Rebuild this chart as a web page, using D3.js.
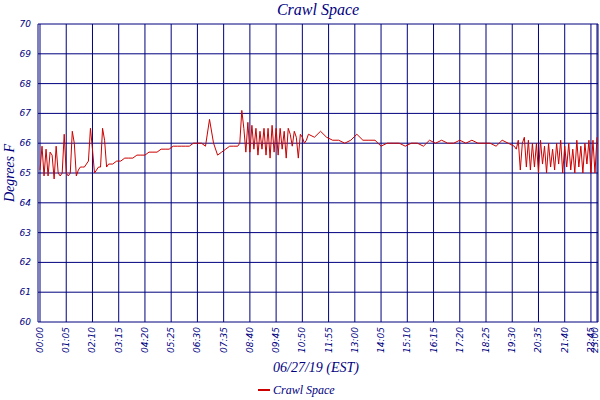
<!DOCTYPE html>
<html><head><meta charset="utf-8">
<script src="https://cdn.jsdelivr.net/npm/d3@7"></script>
<style>body{margin:0;background:#fff}</style>
</head><body><div id="chart"></div>
<script>
// readings, one list per stretch of the day: [start minute, step minutes, values]
const segA = [0, 5, [65.1,65.9,64.9,65.8,64.9,65.7,65.6,64.8,65.9,65.0,64.9,65.0,66.3,65.0,64.9,65.0,66.4,66.0,64.9,65.1,65.2,65.2,65.2,65.3,65.4,66.5,65.8,65.0,65.1,65.2,65.2,66.5,66.1,65.2,65.3]];
const segB = [180, 10, [65.3,65.4,65.4,65.5,65.5,65.5,65.6,65.6,65.6,65.7,65.7,65.7,65.8,65.8,65.8,65.9,65.9,65.9,65.9,65.9,66.0,66.0,66.0,65.9,66.8,66.0,65.6,65.7,65.8,65.9,65.9,65.9]];
const segC = [495, 5, [66.0,67.1,66.5,65.7,66.7,65.7,66.6,65.8,66.5,65.6,66.4,65.8,66.5,65.6,66.5,65.5,66.6,65.7,66.5,65.6,66.5,65.8,66.4,65.5,66.5,66.3,65.9,66.4,66.2,65.5,66.3,66.2,66.0,66.1]];
const segD = [665, 15, [66.3,66.2,66.4,66.2,66.1,66.1,66.0,66.1,66.3,66.1,66.1,66.1,65.9,66.0,66.0,66.0,65.9,66.0,66.0,65.9,66.1,66.0,66.1,66.0,66.0,66.1,66.0,66.1,66.0,66.0,66.0,65.9,66.1,66.0]];
const segE = [1175, 5, [65.9,65.8,66.1,65.1,66.0,66.2,65.2,66.1,65.1,66.0,65.2,66.0,65.0,66.1,65.3,65.9,65.0,66.0,65.2,65.8,65.1,66.0,65.3,66.1,65.0,65.9,65.2,66.0,65.1,65.8,65.0,66.1,65.2,65.9,65.0,66.0,65.3,66.1,65.0,66.1,65.0,66.2]];
const xTickMinutes = [0,65,130,195,260,325,390,455,520,585,650,715,780,845,910,975,1040,1105,1170,1235,1300,1365,1380];
const yTicks = [60,61,62,63,64,65,66,67,68,69,70];

const data = [];
[segA, segB, segC, segD, segE].forEach(([start, step, vals]) =>
  vals.forEach((v, i) => data.push({t: start + step * i, v})));

const W = 600, H = 400, navy = "#00007f";
const svg = d3.select("#chart").append("svg").attr("width", W).attr("height", H)
  .style("font-family", "'DejaVu Sans', sans-serif").style("font-style", "italic");

const x = d3.scaleLinear().domain([0, 1380]).range([40, 597]);
const y = d3.scaleLinear().domain([60, 70]).range([322, 24]);

const fmt = m => String(Math.floor(m / 60)).padStart(2, "0") + ":" + String(m % 60).padStart(2, "0");

// grille
svg.append("g").selectAll("line").data(yTicks).join("line")
  .attr("x1", 38).attr("x2", 598).attr("y1", d => y(d)).attr("y2", d => y(d))
  .attr("stroke", navy).attr("stroke-width", 1);
svg.append("g").selectAll("line").data(xTickMinutes).join("line")
  .attr("x1", d => x(d)).attr("x2", d => x(d)).attr("y1", 24).attr("y2", 322)
  .attr("stroke", navy).attr("stroke-width", 1);
svg.append("line").attr("x1", 38).attr("x2", 38).attr("y1", 24).attr("y2", 322).attr("stroke", navy);
svg.append("line").attr("x1", 598).attr("x2", 598).attr("y1", 24).attr("y2", 322).attr("stroke", navy);

// etiquetes Y
svg.append("g").selectAll("text").data(yTicks).join("text")
  .attr("x", 31).attr("y", d => y(d) + 3).attr("text-anchor", "end")
  .attr("font-size", 9).attr("fill", navy).text(d => d);

// etiquetes X (verticals)
svg.append("g").selectAll("text").data(xTickMinutes).join("text")
  .attr("transform", d => `translate(${Math.min(x(d) + 3, 598)},327) rotate(-90)`)
  .attr("text-anchor", "end").attr("font-size", 9).attr("fill", navy).text(fmt);

// línia
svg.append("path").datum(data)
  .attr("d", d3.line().x(d => x(d.t)).y(d => y(d.v)))
  .attr("fill", "none").attr("stroke", "#cc0000").attr("stroke-width", 1);

// títols
svg.append("text").attr("x", 318).attr("y", 15).attr("text-anchor", "middle")
  .attr("font-family", "'Liberation Serif', serif").attr("font-size", 16).attr("fill", navy)
  .text("Crawl Space");
svg.append("text").attr("transform", "translate(14,173) rotate(-90)").attr("text-anchor", "middle")
  .attr("font-family", "'Liberation Serif', serif").attr("font-size", 14).attr("fill", navy)
  .text("Degrees F");
svg.append("text").attr("x", 316).attr("y", 372).attr("text-anchor", "middle")
  .attr("font-family", "'Liberation Serif', serif").attr("font-size", 14).attr("fill", navy)
  .text("06/27/19 (EST)");

// llegenda
svg.append("line").attr("x1", 258).attr("x2", 270).attr("y1", 390).attr("y2", 390)
  .attr("stroke", "#cc0000").attr("stroke-width", 2);
svg.append("text").attr("x", 273).attr("y", 394).attr("font-family", "'Liberation Serif', serif")
  .attr("font-size", 12).attr("fill", navy).text("Crawl Space");
</script></body></html>
